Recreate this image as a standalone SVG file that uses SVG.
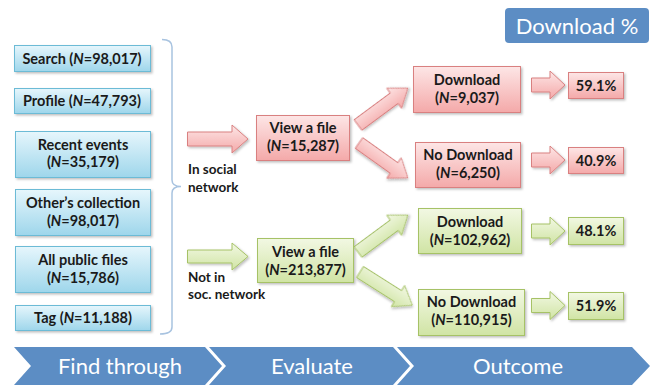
<svg xmlns="http://www.w3.org/2000/svg" width="654" height="385" viewBox="0 0 654 385">
  <defs>
    <linearGradient id="gBlue" x1="0" y1="0" x2="0" y2="1">
      <stop offset="0" stop-color="#e6f6fc"/>
      <stop offset="1" stop-color="#9ed6eb"/>
    </linearGradient>
    <linearGradient id="gPink" x1="0" y1="0" x2="0" y2="1">
      <stop offset="0" stop-color="#fde6e6"/>
      <stop offset="1" stop-color="#f4a9a9"/>
    </linearGradient>
    <linearGradient id="gGreen" x1="0" y1="0" x2="0" y2="1">
      <stop offset="0" stop-color="#f2f8e3"/>
      <stop offset="1" stop-color="#d0e4a4"/>
    </linearGradient>
    <filter id="shadow" x="-10%" y="-10%" width="130%" height="140%">
      <feDropShadow dx="1.5" dy="1.5" stdDeviation="1" flood-color="#000" flood-opacity="0.25"/>
    </filter>
    <path id="diag62" d="M0,-6.5 H45 V-12.5 L62,0 L45,12.5 V6.5 H0 Z"/>
    <path id="diag60" d="M0,-6.5 H43 V-12.5 L60,0 L43,12.5 V6.5 H0 Z"/>
  </defs>
  <style>
    text { font-family: "Lato", "Liberation Sans", sans-serif; fill: #1a1a1a; }
    .lbl { font-size: 14.5px; font-weight: bold; text-anchor: middle; }
    .side { font-size: 13.5px; font-weight: bold; }
    .band { font-size: 22px; fill: #ffffff; text-anchor: middle; }
    .blue { fill: url(#gBlue); stroke: #6cbbd6; stroke-width: 1; filter: url(#shadow); }
    .pink { fill: url(#gPink); stroke: #d98080; stroke-width: 1; filter: url(#shadow); }
    .green { fill: url(#gGreen); stroke: #a6c266; stroke-width: 1; filter: url(#shadow); }
    .chev { fill: #5c8dc4; }
    .it { font-style: italic; }
  </style>

  <!-- header tag -->
  <g id="download-pct">
    <rect x="505" y="8" width="144" height="35" rx="4" fill="#5c8dc4"/>
    <text x="577" y="34" class="band">Download %</text>
  </g>

  <!-- sources -->
  <g id="search">
    <rect class="blue" x="14.5" y="45.5" width="136" height="26"/>
    <text class="lbl" x="82" y="63.5">Search (<tspan class="it">N</tspan>=98,017)</text>
  </g>
  <g id="profile">
    <rect class="blue" x="14.5" y="88.5" width="136" height="25"/>
    <text class="lbl" x="82" y="106">Profile (<tspan class="it">N</tspan>=47,793)</text>
  </g>
  <g id="recent-events">
    <rect class="blue" x="15.5" y="131.5" width="135" height="46"/>
    <text class="lbl" x="83" y="150">Recent events</text>
    <text class="lbl" x="83" y="167">(<tspan class="it">N</tspan>=35,179)</text>
  </g>
  <g id="others-collection">
    <rect class="blue" x="15.5" y="189.5" width="135" height="46"/>
    <text class="lbl" x="83" y="208">Other’s collection</text>
    <text class="lbl" x="83" y="226">(<tspan class="it">N</tspan>=98,017)</text>
  </g>
  <g id="all-public-files">
    <rect class="blue" x="15.5" y="246.5" width="135" height="46"/>
    <text class="lbl" x="83" y="265">All public files</text>
    <text class="lbl" x="83" y="283">(<tspan class="it">N</tspan>=15,786)</text>
  </g>
  <g id="tag">
    <rect class="blue" x="15.5" y="305.5" width="135" height="25"/>
    <text class="lbl" x="83" y="322.5">Tag (<tspan class="it">N</tspan>=11,188)</text>
  </g>

  <!-- evaluate -->
  <g id="view-social">
    <rect class="pink" x="256.5" y="115.5" width="93" height="45"/>
    <text class="lbl" x="303" y="133">View a file</text>
    <text class="lbl" x="303" y="151">(<tspan class="it">N</tspan>=15,287)</text>
  </g>
  <g id="view-nonsocial">
    <rect class="green" x="257.5" y="238.5" width="96" height="44"/>
    <text class="lbl" x="305.5" y="257">View a file</text>
    <text class="lbl" x="305.5" y="275">(<tspan class="it">N</tspan>=213,877)</text>
  </g>

  <!-- outcomes -->
  <g id="dl-social">
    <rect class="pink" x="413.5" y="66.5" width="107" height="46"/>
    <text class="lbl" x="467" y="85">Download</text>
    <text class="lbl" x="467" y="103">(<tspan class="it">N</tspan>=9,037)</text>
  </g>
  <g id="nodl-social">
    <rect class="pink" x="415.5" y="142.5" width="105" height="45"/>
    <text class="lbl" x="468" y="160">No Download</text>
    <text class="lbl" x="468" y="178">(<tspan class="it">N</tspan>=6,250)</text>
  </g>
  <g id="dl-nonsocial">
    <rect class="green" x="418.5" y="208.5" width="103" height="45"/>
    <text class="lbl" x="470" y="227">Download</text>
    <text class="lbl" x="470" y="245">(<tspan class="it">N</tspan>=102,962)</text>
  </g>
  <g id="nodl-nonsocial">
    <rect class="green" x="418.5" y="289.5" width="106" height="46"/>
    <text class="lbl" x="471.5" y="307">No Download</text>
    <text class="lbl" x="471.5" y="325">(<tspan class="it">N</tspan>=110,915)</text>
  </g>

  <!-- percentages -->
  <g id="pct-59">
    <rect class="pink" x="568.5" y="72.5" width="55" height="26"/>
    <text class="lbl" x="596" y="90.5">59.1%</text>
  </g>
  <g id="pct-40">
    <rect class="pink" x="568.5" y="147.5" width="55" height="26"/>
    <text class="lbl" x="596" y="165.5">40.9%</text>
  </g>
  <g id="pct-48">
    <rect class="green" x="568.5" y="217.5" width="55" height="27"/>
    <text class="lbl" x="596" y="236">48.1%</text>
  </g>
  <g id="pct-51">
    <rect class="green" x="568.5" y="292.5" width="55" height="27"/>
    <text class="lbl" x="596" y="311">51.9%</text>
  </g>

  <!-- connectors -->
  <g id="connectors">
    <!-- brace grouping the sources -->
    <path d="M162,39.5 Q172,39.5 172,47 V180 Q172,186.5 181,186.5 Q172,186.5 172,193 V327 Q172,334 160,334" fill="none" stroke="#a8c3e0" stroke-width="1.5"/>

    <!-- into evaluation -->
    <polygon class="pink" points="187.5,132 232,132 232,125 248,139 232,153 232,146 187.5,146"/>
    <polygon class="green" points="187.5,250 232,250 232,243 248,256.5 232,270 232,263 187.5,263"/>

    <!-- branches -->
    <use href="#diag62" class="pink" transform="translate(358,125) rotate(-36.5)"/>
    <use href="#diag60" class="pink" transform="translate(359,143) rotate(35.5)"/>
    <use href="#diag62" class="green" transform="translate(358,252) rotate(-36.5)"/>
    <use href="#diag62" class="green" transform="translate(360,272) rotate(32.4)"/>

    <!-- to percentages -->
    <polygon class="pink" points="531.5,78 550,78 550,71 565,85 550,99 550,92 531.5,92"/>
    <polygon class="pink" points="531.5,153 550,153 550,146 565,160 550,174 550,167 531.5,167"/>
    <polygon class="green" points="531.5,224 550,224 550,217 565,231 550,245 550,238 531.5,238"/>
    <polygon class="green" points="531.5,298.5 550,298.5 550,291.5 565,305.5 550,319.5 550,312.5 531.5,312.5"/>
  </g>

  <!-- branch labels -->
  <text class="side" x="188" y="174">In social</text>
  <text class="side" x="188" y="192">network</text>
  <text class="side" x="188" y="282">Not in</text>
  <text class="side" x="188" y="299">soc. network</text>

  <!-- process band -->
  <g id="stage-find">
    <polygon class="chev" points="14,347 205,347 222,366 205,385 14,385 31,366"/>
    <text class="band" x="120" y="374">Find through</text>
  </g>
  <g id="stage-evaluate">
    <polygon class="chev" points="209,347 393,347 410,366 393,385 209,385 226,366"/>
    <text class="band" x="312" y="374">Evaluate</text>
  </g>
  <g id="stage-outcome">
    <polygon class="chev" points="397,347 632,347 650,366 632,385 397,385 414,366"/>
    <text class="band" x="518" y="374">Outcome</text>
  </g>
</svg>
